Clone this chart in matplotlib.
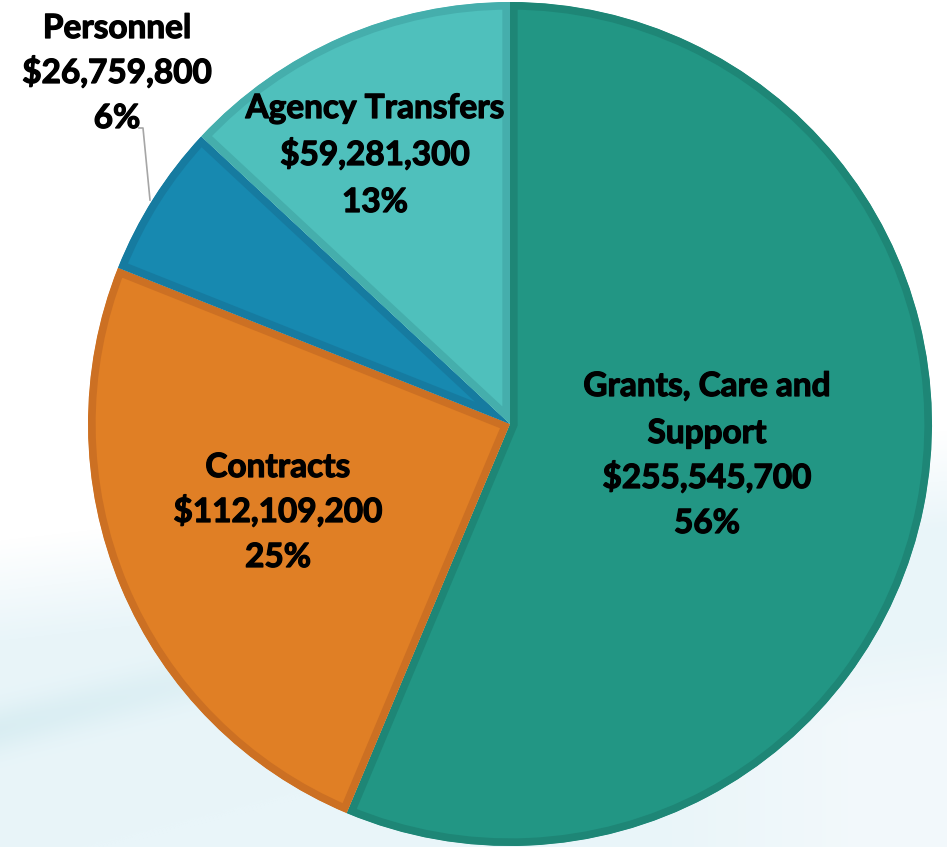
import matplotlib
matplotlib.use("Agg")
import matplotlib.pyplot as plt
import matplotlib.patheffects as pe
from matplotlib.colors import to_rgb
import numpy as np

# ---- data ----
categories = ["Grants, Care and\nSupport", "Contracts", "Personnel", "Agency Transfers"]
amounts = [255545700, 112109200, 26759800, 59281300]
amount_labels = ["$255,545,700", "$112,109,200", "$26,759,800", "$59,281,300"]
pct_labels = ["56%", "25%", "6%", "13%"]

# ---- styles ----
fills = ["#229684", "#E07F25", "#1789B0", "#4FC0BC"]
edges = ["#1E8676", "#CC7023", "#167BA0", "#45AEAC"]

W, H = 947, 847
fig = plt.figure(figsize=(W / 100, H / 100), dpi=100)
ax = fig.add_axes([0, 0, 1, 1])
ax.set_axis_off()

def Y(v):
    return H - v

# ---- soft background ----
yy, xx = np.mgrid[0:H, 0:W]
base = np.array(to_rgb("#FFFFFF"))
blue = np.array(to_rgb("#E9F5F9"))
edge_y = 590 - 110 * (xx / W)
t = np.clip((yy - (edge_y - 50)) / 100.0, 0, 1)
band_c = 728 - 0.25 * xx
band = np.exp(-((yy - band_c) / 24.0) ** 2) * np.clip(1 - xx / 600, 0, 1)
lr = np.clip((yy - (770 - 0.15 * xx)) / 80.0, 0, 1) * np.clip((xx - 650) / 200, 0, 1)
img = base[None, None, :] * (1 - t[..., None]) + blue[None, None, :] * t[..., None]
bc = np.array(to_rgb("#D6ECF1"))
img = img * (1 - 0.8 * band[..., None]) + bc[None, None, :] * 0.8 * band[..., None]
lc = np.array(to_rgb("#F6FAFC"))
img = img * (1 - 0.7 * lr[..., None]) + lc[None, None, :] * 0.7 * lr[..., None]
ax.imshow(img, extent=(0, W, 0, H), origin="upper", zorder=0, aspect="auto")

# ---- pie ----
cx, cy, R = 510, 424, 422
wedges, _ = ax.pie(amounts, colors=fills, startangle=90, counterclock=False,
                   center=(cx, Y(cy)), radius=R,
                   wedgeprops=dict(linewidth=11, zorder=2))
ax.set_xlim(0, W)
ax.set_ylim(0, H)
ax.set_aspect("equal")
for w, ec in zip(wedges, edges):
    w.set_edgecolor(ec)
    w.set_zorder(2)
    w.set_clip_on(True)
    w.set_clip_path(w.get_path(), w.get_transform())

# ---- labels ----
font = dict(family=["Lato", "DejaVu Sans"], weight="bold", size=24,
            color="black", ha="center", va="baseline", zorder=5,
            path_effects=[pe.withStroke(linewidth=0.9, foreground="black")])
label_pos = [(707, [396, 443, 488, 533]),
             (278, [477, 522, 567]),
             (117, [38, 83, 128]),
             (375, [118, 165, 212])]
for cat, amt, pct, (lx, bases) in zip(categories, amount_labels, pct_labels, label_pos):
    lines = cat.split("\n") + [amt, pct]
    for line, b in zip(lines, bases):
        ax.text(lx, Y(b), line, **font)

# leader line for Personnel
ax.plot([139, 143, 150], [Y(128), Y(128), Y(200)], color="#A6A6A6", lw=1.2, zorder=4)

fig.savefig("out.png", dpi=100, facecolor="white")
